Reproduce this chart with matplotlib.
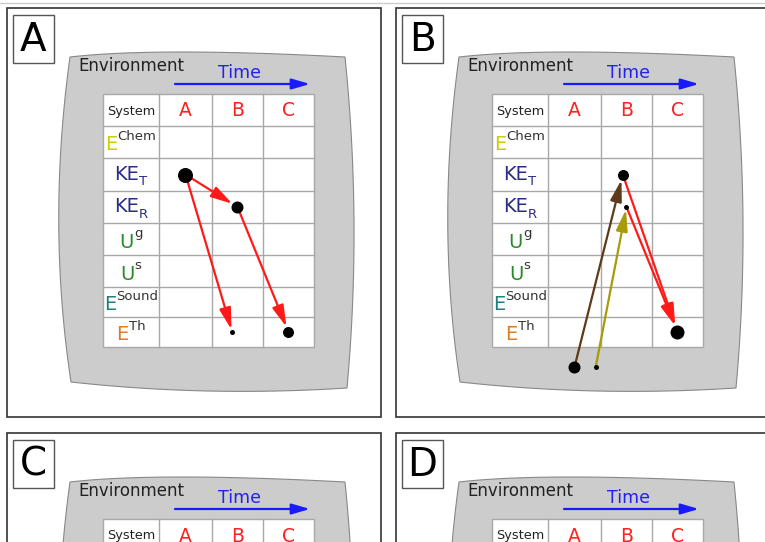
import numpy as np
import matplotlib.pyplot as plt
from matplotlib.patches import Rectangle, Polygon, FancyArrowPatch

plt.rcParams['font.family'] = ['DejaVu Sans']

# table contents
states = ["A", "B", "C"]
row_keys = ["E_Chem", "KE_T", "KE_R", "U_g", "U_s", "E_Sound", "E_Th"]
row_base = ["E", "KE", "KE", "U", "U", "E", "E"]
row_script = ["Chem", "T", "R", "g", "s", "Sound", "Th"]
script_kind = ["sup", "sub", "sub", "sup", "sup", "sup", "sup"]
base_color = ["#cccc00", "#2b2b8c", "#2b2b8c", "#2a8a2a", "#2a8a2a", "#1f7f7f", "#e07b20"]
script_color = ["#333333", "#2b2b8c", "#2b2b8c", "#333333", "#333333", "#333333", "#333333"]

panel_names = ["A", "B", "C", "D"]

# energy dots: (state, row, diameter in px, column shift)
dots_A = [("A", "KE_T", 15, 0.0), ("B", "KE_R", 12, 0.0),
          ("B", "E_Th", 5, -0.1), ("C", "E_Th", 11, 0.0)]
arrows_A = [(0, 1, "#ff1a1a"), (0, 2, "#ff1a1a"), (1, 3, "#ff1a1a")]

dots_B = [("B", "KE_T", 11, -0.07), ("B", "KE_R", 5, 0.0), ("C", "E_Th", 14, 0.0),
          ("A", "Env", 12, 0.0), ("A", "Env", 5, 0.4)]
arrows_B = [(3, 0, "#5c3a1a"), (4, 1, "#a89a0a"), (0, 2, "#ff1a1a"), (1, 2, "#ff1a1a")]

panel_dots = [dots_A, dots_B, [], []]
panel_arrows = [arrows_A, arrows_B, [], []]

# layout (pixels, relative to each panel's top-left corner)
origins = [(7, 8), (396, 8), (7, 433), (396, 433)]
PW, PH = 374, 409
col_edges = [96, 152, 205, 256, 307]
row_edges = [86, 118, 150, 183, 215, 247, 279, 309, 339]
env_y = 359
W, H = 765, 542


def bez(p0, c, p1, n=40):
    t = np.linspace(0, 1, n)[:, None]
    p0, c, p1 = np.array(p0), np.array(c), np.array(p1)
    return (1 - t) ** 2 * p0 + 2 * (1 - t) * t * c + t ** 2 * p1


blob = np.vstack([
    bez((63, 49), (150, 39), (338, 49)),
    bez((338, 49), (355, 215), (340, 380)),
    bez((340, 380), (200, 389), (64, 374)),
    bez((64, 374), (40, 215), (63, 49)),
])

fig = plt.figure(figsize=(W / 100, H / 100), dpi=100)
ax = fig.add_axes([0, 0, 1, 1])
ax.set_xlim(0, W)
ax.set_ylim(H, 0)
ax.axis("off")
renderer = fig.canvas.get_renderer()

ax.plot([0, W], [2.5, 2.5], color="#cccccc", lw=1)

col_c = [(col_edges[i] + col_edges[i + 1]) / 2 for i in range(4)]
col_w = col_edges[2] - col_edges[1]
row_c = {k: (row_edges[i + 1] + row_edges[i + 2]) / 2 for i, k in enumerate(row_keys)}
row_c["Env"] = env_y


def dot_xy(d, ox, oy):
    st, rk, size, shift = d
    x = ox + col_c[states.index(st) + 1] + shift * col_w
    return x, oy + row_c[rk]


for name, (ox, oy), dots, arrows in zip(panel_names, origins, panel_dots, panel_arrows):
    ax.add_patch(Rectangle((ox, oy), PW, PH, fc="white", ec="#333333", lw=1.2, zorder=1))
    ax.add_patch(Rectangle((ox + 6, oy + 7), 41, 48, fc="white", ec="#555555", lw=1, zorder=2))
    ax.text(ox + 26.5, oy + 32, name, fontsize=28, ha="center", va="center", color="black", zorder=3)

    ax.add_patch(Polygon(blob + [ox, oy], closed=True, fc="#cccccc", ec="#888888", lw=0.8, zorder=2))
    ax.text(ox + 71, oy + 58, "Environment", fontsize=12, ha="left", va="center", color="#222222", zorder=3)
    ax.text(ox + 233, oy + 65, "Time", fontsize=12.5, ha="center", va="center", color="#2222ee", zorder=3)
    ax.add_patch(FancyArrowPatch((ox + 168, oy + 76), (ox + 303, oy + 76),
                                 arrowstyle="-|>,head_length=1.1,head_width=0.32", mutation_scale=10,
                                 color="#1a1aff", lw=1.6, shrinkA=0, shrinkB=0, zorder=3))

    # table
    x0, x1 = ox + col_edges[0], ox + col_edges[-1]
    y0, y1 = oy + row_edges[0], oy + row_edges[-1]
    ax.add_patch(Rectangle((x0, y0), x1 - x0, y1 - y0, fc="white", ec="#a8a8a8", lw=1, zorder=3))
    for cx in col_edges[1:-1]:
        ax.plot([ox + cx, ox + cx], [y0, y1], color="#a8a8a8", lw=1, zorder=3)
    for ry in row_edges[1:-1]:
        ax.plot([x0, x1], [oy + ry, oy + ry], color="#a8a8a8", lw=1, zorder=3)

    hy = oy + (row_edges[0] + row_edges[1]) / 2
    ax.text(ox + col_c[0], hy + 1, "System", fontsize=9.3, ha="center", va="center", color="#222222", zorder=4)
    for i, st in enumerate(states):
        ax.text(ox + col_c[i + 1], hy + 1, st, fontsize=13.5, ha="center", va="center", color="#ff2020", zorder=4)

    for k, b, s, kind, bc, sc in zip(row_keys, row_base, row_script, script_kind, base_color, script_color):
        rc = oy + row_c[k]
        if rc - 15 > H:
            continue  # row lies below the visible picture
        by = rc + 3 if kind == "sup" else rc
        sy = by - 8.5 if kind == "sup" else by + 7
        tb = ax.text(0, by, b, fontsize=14, ha="left", va="center", color=bc, zorder=4)
        ts = ax.text(0, sy, s, fontsize=9.5, ha="left", va="center", color=sc, zorder=4)
        wb = tb.get_window_extent(renderer).width
        ws = ts.get_window_extent(renderer).width
        start = ox + col_c[0] - (wb + ws) / 2
        tb.set_x(start)
        ts.set_x(start + wb)

    # transfers
    for a, b, c in arrows:
        pa = dot_xy(dots[a], ox, oy)
        pb = dot_xy(dots[b], ox, oy)
        shrink = dots[b][2] / 2 / 1.389
        ax.add_patch(FancyArrowPatch(pa, pb, arrowstyle="-|>,head_length=1.3,head_width=0.35",
                                     mutation_scale=10, color=c, lw=1.6,
                                     shrinkA=0, shrinkB=shrink, zorder=5))
    for d in dots:
        x, y = dot_xy(d, ox, oy)
        ax.scatter([x], [y], s=(d[2] / 1.389) ** 2, color="black", zorder=6, linewidths=0)

fig.savefig("out.png", dpi=100)
